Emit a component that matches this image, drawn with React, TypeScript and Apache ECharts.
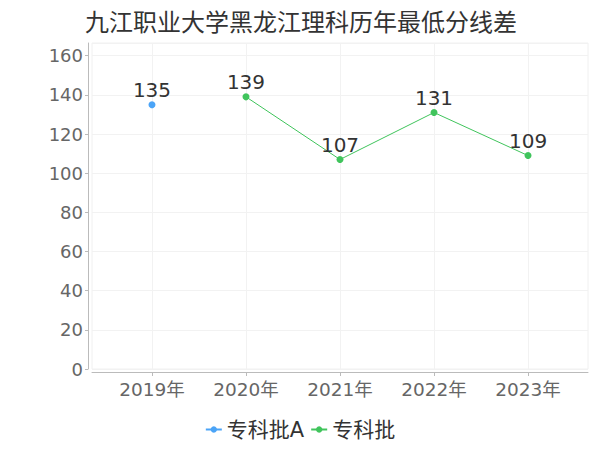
import React, { useEffect, useRef } from "react";
import * as echarts from "echarts";

const years = ["2019年", "2020年", "2021年", "2022年", "2023年"];
const seriesAName = "专科批A";
const seriesAValues: (number | null)[] = [135, null, null, null, null];
const seriesBName = "专科批";
const seriesBValues: (number | null)[] = [null, 139, 107, 131, 109];

const FONT = "'DejaVu Sans', 'Noto Sans CJK SC', sans-serif";

export default function App() {
  const ref = useRef<HTMLDivElement>(null);
  useEffect(() => {
    if (!ref.current) return;
    const chart = echarts.init(ref.current, undefined, { renderer: "svg" });
    const idx = years.map((_, i) => i);
    const toData = (vals: (number | null)[]) =>
      vals.map((v, i) => [i, v]).filter((d) => d[1] !== null);
    chart.setOption({
      animation: false,
      backgroundColor: "#ffffff",
      textStyle: { fontFamily: FONT },
      title: {
        text: "九江职业大学黑龙江理科历年最低分线差",
        left: 80,
        top: 6,
        textStyle: { fontSize: 24, fontWeight: "normal", color: "#333", fontFamily: FONT },
      },
      legend: {
        bottom: 5,
        left: "center",
        itemWidth: 16,
        itemHeight: 8,
        itemGap: 6,
        textStyle: { fontSize: 21, color: "#333", fontFamily: FONT },
        data: [seriesAName, seriesBName],
      },
      grid: {
        left: 92,
        right: 12,
        top: 43,
        bottom: 81,
        show: true,
        borderColor: "#f0f0f0",
        borderWidth: 1,
      },
      xAxis: {
        type: "value",
        min: -0.638,
        max: 4.638,
        offset: 3,
        axisLine: { show: true, onZero: false, lineStyle: { color: "#bbb" } },
        axisTick: { show: true, length: 4, customValues: idx, lineStyle: { color: "#bbb" } },
        axisLabel: {
          customValues: idx,
          fontSize: 18.5,
          color: "#666",
          margin: 8,
          fontFamily: FONT,
          formatter: (v: number) => years[Math.round(v)] ?? "",
        },
        splitLine: { show: true, lineStyle: { color: "#f2f2f2" } },
      },
      yAxis: {
        type: "value",
        min: 0,
        max: 166.5,
        interval: 20,
        offset: 4,
        axisLine: { show: true, onZero: false, lineStyle: { color: "#bbb" } },
        axisTick: { show: true, length: 3, lineStyle: { color: "#bbb" } },
        axisLabel: { fontSize: 18, color: "#666", margin: 5, fontFamily: FONT },
        splitLine: { show: true, lineStyle: { color: "#f2f2f2" } },
      },
      series: [
        {
          name: seriesAName,
          type: "line",
          data: toData(seriesAValues),
          color: "#4ba4f7",
          symbol: "circle",
          symbolSize: 7,
          lineStyle: { width: 1 },
          label: { show: true, position: "top", distance: 1, fontSize: 20, color: "#333", fontFamily: FONT },
        },
        {
          name: seriesBName,
          type: "line",
          data: toData(seriesBValues),
          color: "#40c45c",
          symbol: "circle",
          symbolSize: 7,
          lineStyle: { width: 1 },
          label: { show: true, position: "top", distance: 1, fontSize: 20, color: "#333", fontFamily: FONT },
        },
      ],
    });
    return () => chart.dispose();
  }, []);
  return <div ref={ref} style={{ width: 600, height: 450, position: "absolute", left: 0, top: 0 }} />;
}
